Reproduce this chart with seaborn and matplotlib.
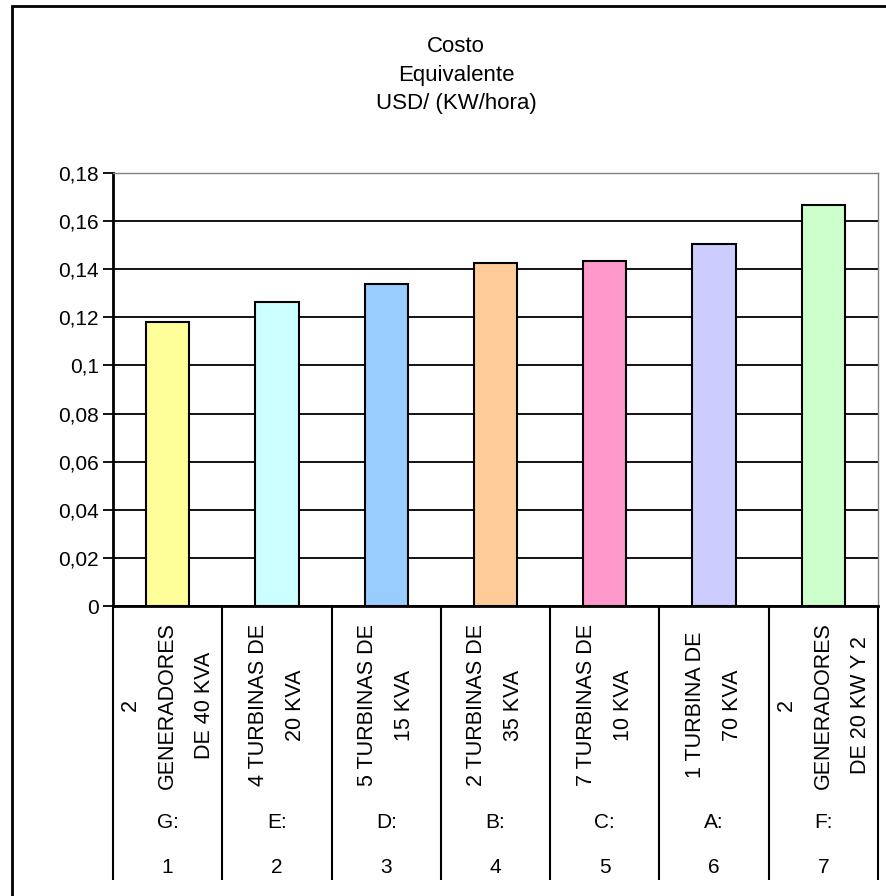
import numpy as np
import matplotlib
matplotlib.use("Agg")
import matplotlib.pyplot as plt
import matplotlib.transforms as mtransforms
from matplotlib.patches import Rectangle
import seaborn as sns

# data
numbers = ["1", "2", "3", "4", "5", "6", "7"]
letters = ["G:", "E:", "D:", "B:", "C:", "A:", "F:"]
names = [
    "2\nGENERADORES\nDE 40 KVA",
    "4 TURBINAS DE\n20 KVA",
    "5 TURBINAS DE\n15 KVA",
    "2 TURBINAS DE\n35 KVA",
    "7 TURBINAS DE\n10 KVA",
    "1 TURBINA DE\n70 KVA",
    "2\nGENERADORES\nDE 20 KW Y 2",
]
costs = [0.118, 0.1262, 0.1339, 0.1426, 0.1435, 0.1504, 0.1668]
colors = ["#FFFF99", "#CCFFFF", "#99CCFF", "#FFCC99", "#FF99CC", "#CCCCFF", "#CCFFCC"]
y_ticks = [0, 0.02, 0.04, 0.06, 0.08, 0.1, 0.12, 0.14, 0.16, 0.18]
y_labels = ["0", "0,02", "0,04", "0,06", "0,08", "0,1", "0,12", "0,14", "0,16", "0,18"]

sns.set_style("white")
plt.rcParams["font.family"] = ["Liberation Sans", "DejaVu Sans"]
plt.rcParams["text.color"] = "black"
plt.rcParams["ytick.color"] = "black"
plt.rcParams["xtick.color"] = "black"

W, H = 886, 896
fig = plt.figure(figsize=(W / 100, H / 100), dpi=100)
ax = fig.add_axes([113 / W, 290 / H, 765 / W, 433 / H])

sns.barplot(x=numbers, y=costs, hue=numbers, palette=colors, legend=False,
            width=0.395, saturation=1, edgecolor="black", linewidth=1.5, ax=ax)

ax.set_xlim(-0.5, len(numbers) - 0.5)
ax.set_ylim(0, 0.18)
ax.set_xlabel("")
ax.set_ylabel("")

# y axis
ax.set_yticks(y_ticks)
ax.set_yticklabels(y_labels, fontsize=15)
ax.tick_params(axis="y", direction="out", length=7, width=1.3, color="black",
               labelcolor="black", pad=3, left=True)
ax.set_axisbelow(True)
ax.yaxis.grid(True, color="black", linewidth=1.3)
ax.yaxis.get_gridlines()[-1].set_visible(False)

# category separators reach down through the label rows
ax.set_xticks(np.arange(-0.5, len(numbers), 1))
ax.set_xticklabels([])
ax.tick_params(axis="x", direction="out", length=197, width=1.5, color="black",
               bottom=True)

for side in ["left", "bottom"]:
    ax.spines[side].set_color("black")
    ax.spines[side].set_linewidth(2)
for side in ["top", "right"]:
    ax.spines[side].set_color("#808080")
    ax.spines[side].set_linewidth(1)

# multi-level category labels
trans = mtransforms.blended_transform_factory(ax.transData, ax.transAxes)
for i in range(len(numbers)):
    ax.text(i, -0.229, names[i], transform=trans, rotation=90, ha="center",
            va="center", multialignment="center", fontsize=15.5, linespacing=2.0)
    ax.text(i, -0.499, letters[i], transform=trans, ha="center", va="center",
            fontsize=15)
    ax.text(i, -0.603, numbers[i], transform=trans, ha="center", va="center",
            fontsize=15)

fig.text(456 / W, 1 - 75 / H, "Costo\nEquivalente\nUSD/ (KW/hora)", ha="center",
         va="center", multialignment="center", fontsize=16, linespacing=1.5)

# chart frame, cut off at the right and bottom edges
fig.add_artist(Rectangle((11.5 / W, -0.05), 1.0, 1.05 - 6.5 / H, transform=fig.transFigure,
                         fill=False, edgecolor="black", linewidth=2))

fig.savefig("out.png", dpi=100)
